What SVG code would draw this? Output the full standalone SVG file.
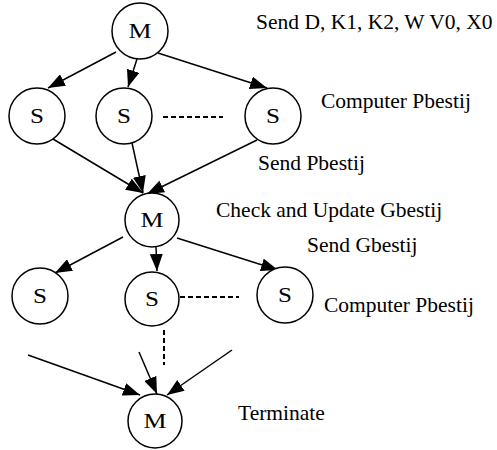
<svg xmlns="http://www.w3.org/2000/svg" width="497" height="450" viewBox="0 0 497 450">
<defs>
<marker id="ah" markerUnits="userSpaceOnUse" markerWidth="18" markerHeight="13" refX="17" refY="6.5" orient="auto">
<path d="M0,0 L17,6.5 L0,13 z" fill="#000"/>
</marker>
<style>
.n circle{fill:#fff;stroke:#000;stroke-width:1.5}
.n text{font-family:"Liberation Serif","Times New Roman",serif;font-size:20.5px;text-anchor:middle;fill:#000}
.lbl{font-family:"Liberation Serif","Times New Roman",serif;font-size:21.5px;fill:#000}
.e line{stroke:#000;stroke-width:1.5;fill:none}
.e .a{marker-end:url(#ah)}
.e .d{stroke-dasharray:5,3;stroke-width:2}
</style>
</defs>
<rect width="497" height="450" fill="#fff"/>
<g id="connectors" class="e">
<line class="a" x1="116" y1="52" x2="48" y2="88"/>
<line class="a" x1="137" y1="59" x2="128" y2="87"/>
<line class="a" x1="158" y1="53" x2="267" y2="88"/>
<line class="a" x1="53" y1="139" x2="143" y2="193"/>
<line class="a" x1="132" y1="143" x2="143" y2="193"/>
<line class="a" x1="257" y1="140" x2="147" y2="194"/>
<line class="a" x1="123" y1="237" x2="55" y2="273"/>
<line class="a" x1="156" y1="247" x2="157" y2="271"/>
<line class="a" x1="177" y1="238" x2="278" y2="270"/>
<line class="a" x1="28" y1="355" x2="140" y2="395"/>
<line class="a" x1="139" y1="352" x2="157" y2="394"/>
<line class="a" x1="232" y1="350" x2="167" y2="395"/>
<line class="d" x1="163" y1="117" x2="223" y2="117"/>
<line class="d" x1="180" y1="297" x2="239" y2="297"/>
<line class="d" x1="164" y1="330" x2="164" y2="365"/>
</g>
<g id="m1" class="n"><circle cx="140" cy="31" r="28"/><text x="140" y="38" textLength="23" lengthAdjust="spacingAndGlyphs">M</text></g>
<g id="s1" class="n"><circle cx="37" cy="116" r="28"/><text x="37" y="123" textLength="14" lengthAdjust="spacingAndGlyphs">S</text></g>
<g id="s2" class="n"><circle cx="124" cy="116" r="28"/><text x="124" y="123" textLength="14" lengthAdjust="spacingAndGlyphs">S</text></g>
<g id="s3" class="n"><circle cx="273" cy="116" r="28"/><text x="273" y="123" textLength="14" lengthAdjust="spacingAndGlyphs">S</text></g>
<g id="m2" class="n"><circle cx="152" cy="220" r="27"/><text x="152" y="227" textLength="23" lengthAdjust="spacingAndGlyphs">M</text></g>
<g id="s4" class="n"><circle cx="40" cy="296" r="28"/><text x="40" y="303" textLength="14" lengthAdjust="spacingAndGlyphs">S</text></g>
<g id="s5" class="n"><circle cx="152" cy="299" r="27"/><text x="152" y="306" textLength="14" lengthAdjust="spacingAndGlyphs">S</text></g>
<g id="s6" class="n"><circle cx="285" cy="295" r="28"/><text x="285" y="302" textLength="14" lengthAdjust="spacingAndGlyphs">S</text></g>
<g id="m3" class="n"><circle cx="155" cy="421" r="27"/><text x="155" y="428" textLength="23" lengthAdjust="spacingAndGlyphs">M</text></g>
<g id="labels">
<text class="lbl" x="256" y="29">Send D, K1, K2, W V0, X0</text>
<text class="lbl" x="321" y="108">Computer Pbestij</text>
<text class="lbl" x="258" y="170">Send Pbestij</text>
<text class="lbl" x="216" y="217">Check and Update Gbestij</text>
<text class="lbl" x="307" y="252">Send Gbestij</text>
<text class="lbl" x="324" y="312">Computer Pbestij</text>
<text class="lbl" x="238" y="420">Terminate</text>
</g>
</svg>
